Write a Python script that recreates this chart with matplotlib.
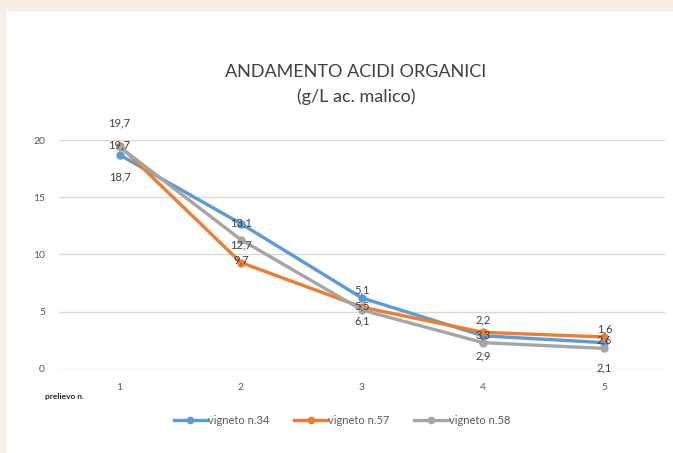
import matplotlib
matplotlib.use("Agg")
import matplotlib.pyplot as plt
from matplotlib.patches import Rectangle

plt.rcParams['font.family'] = ['Lato', 'DejaVu Sans']

prelievo = [1, 2, 3, 4, 5]
series_names = ["vigneto n.34", "vigneto n.57", "vigneto n.58"]
v34 = [18.7, 12.7, 6.2, 2.9, 2.3]
v57 = [19.5, 9.3, 5.4, 3.2, 2.8]
v58 = [19.4, 11.3, 5.15, 2.3, 1.8]
# data labels as printed on the chart
lab34 = ["18,7", "13,1", "5,1", "3,3", "2,6"]
lab57 = ["19,7", "9,7", "5,5", "2,2", "1,6"]
lab58 = ["19,7", "12,7", "6,1", "2,9", "2,1"]
colors = ["#5B9BD5", "#ED7D31", "#A5A5A5"]

# vertical offset (pixels) of each label from its point
off34 = [-22, 1, 8, 1, 3]
off57 = [23, 3, 1, 12, 8]
off58 = [2, -5, -11, -13, -20]

fig = plt.figure(figsize=(6.73, 4.53), dpi=100)
fig.patch.set_facecolor("white")
# beige frame strips
fig.patches.append(Rectangle((0, 1 - 10 / 453), 1, 10 / 453, transform=fig.transFigure,
                             color="#F7EFE6", zorder=0))
fig.patches.append(Rectangle((0, 0), 5 / 673, 1, transform=fig.transFigure,
                             color="#F7EFE6", zorder=0))

ax = fig.add_axes([59 / 673, 1 - 369 / 453, 606 / 673, 229 / 453])
ax.set_facecolor("none")

all_vals = [v34, v57, v58]
all_labs = [lab34, lab57, lab58]
all_offs = [off34, off57, off58]
for vals, name, c in zip(all_vals, series_names, colors):
    ax.plot(prelievo, vals, color=c, lw=2.4, marker="o", ms=5, label=name, zorder=3)

for vals, labs, offs in zip(all_vals, all_labs, all_offs):
    for x, y, t, o in zip(prelievo, vals, labs, offs):
        ax.annotate(t, (x, y), xytext=(0, o), textcoords="offset pixels",
                    ha="center", va="center", fontsize=8, color="#404040", zorder=4)

ax.set_xlim(0.5, 5.5)
ax.set_ylim(0, 20)
ax.set_yticks([0, 5, 10, 15, 20])
ax.set_xticks(prelievo)
ax.grid(axis="y", color="#D9D9D9", lw=1)
ax.set_axisbelow(True)
for s in ax.spines.values():
    s.set_visible(False)
ax.tick_params(length=0, labelsize=7.5, colors="#595959")
ax.tick_params(axis="x", pad=10)
ax.tick_params(axis="y", pad=10)

fig.text(356 / 673, 1 - 72 / 453, "ANDAMENTO ACIDI ORGANICI", ha="center", va="center",
         fontsize=13, color="#404040")
fig.text(356 / 673, 1 - 97 / 453, "(g/L ac. malico)", ha="center", va="center",
         fontsize=13, color="#404040")
fig.text(45 / 673, 1 - 396 / 453, "prelievo n.", ha="left", va="center",
         fontsize=6, fontweight="bold", color="#262626")

fig.legend(loc="center", bbox_to_anchor=(342 / 673, 1 - 420 / 453), ncol=3, frameon=False,
           fontsize=8, labelcolor="#595959", handlelength=3, handletextpad=0.1,
           columnspacing=2.2, markerscale=0.9)

fig.savefig("out.png", dpi=100)
